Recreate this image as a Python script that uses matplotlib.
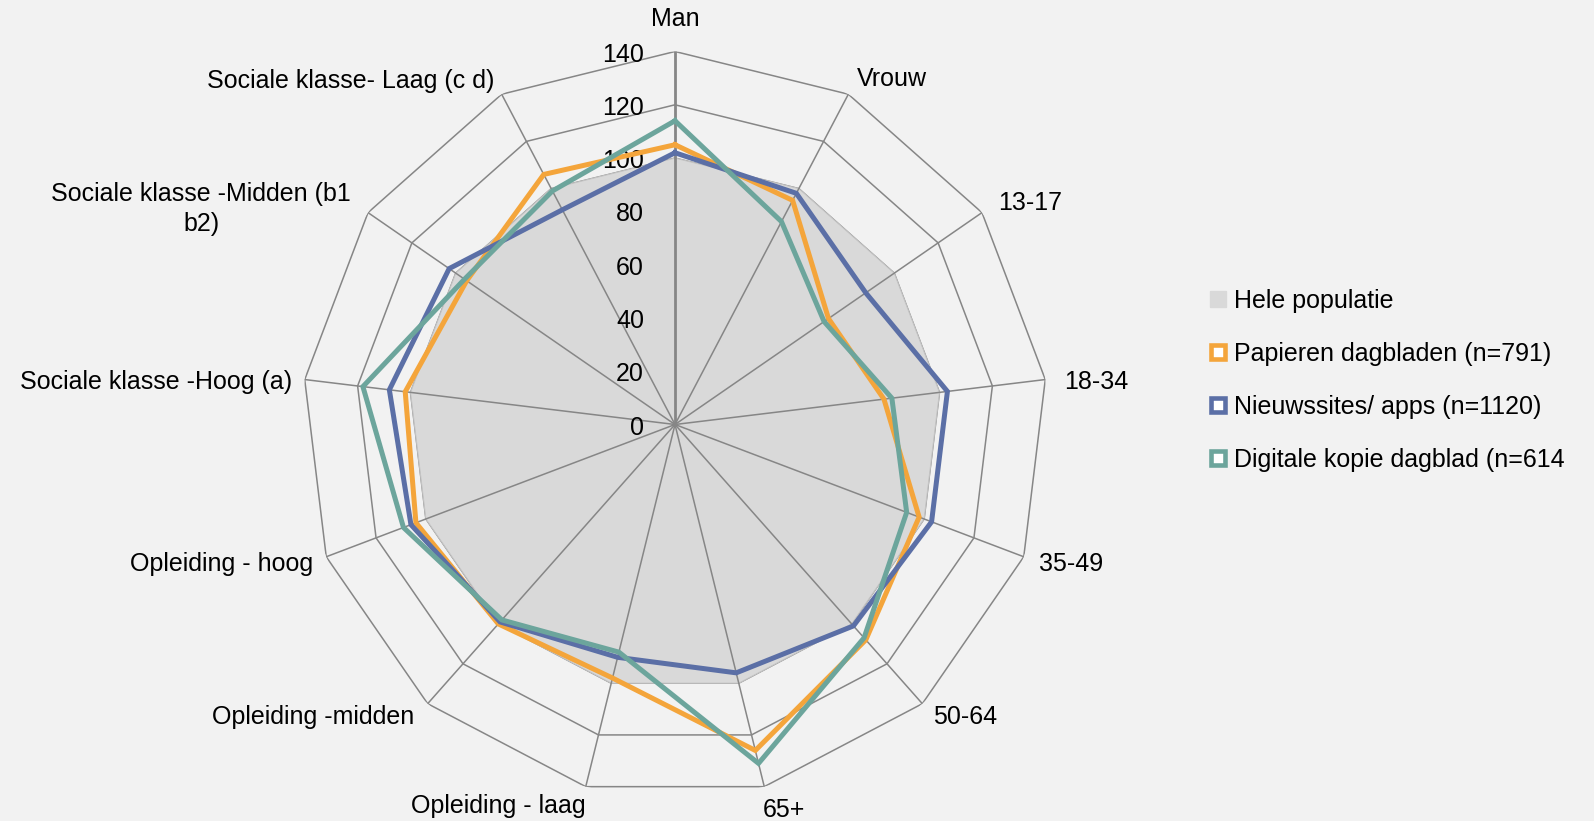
import numpy as np
import matplotlib
matplotlib.use("Agg")
import matplotlib.pyplot as plt
from matplotlib.lines import Line2D

plt.rcParams['font.family'] = ['Liberation Sans', 'DejaVu Sans']

categories = ["Man", "Vrouw", "13-17", "18-34", "35-49", "50-64", "65+",
              "Opleiding - laag", "Opleiding -midden", "Opleiding - hoog",
              "Sociale klasse -Hoog (a)", "Sociale klasse -Midden (b1\nb2)",
              "Sociale klasse- Laag (c d)"]
hele_populatie = [100, 100, 100, 100, 100, 100, 100, 100, 100, 100, 100, 100, 100]
papieren = [105, 95, 70, 79, 98, 108, 126, 98, 100, 104, 102, 95, 106]
nieuwssites = [102, 98, 87, 103, 103, 101, 96, 90, 99, 106, 108, 103, 91]
digitale = [114, 86, 68, 82, 93, 107, 131, 88, 98, 109, 118, 96, 99]
series_names = ["Hele populatie", "Papieren dagbladen (n=791)",
                "Nieuwssites/ apps (n=1120)", "Digitale kopie dagblad (n=614"]
rticks = [0, 20, 40, 60, 80, 100, 120, 140]

BG = "#F2F2F2"
GRID = "#868686"
FILL = "#D9D9D9"
ORANGE = "#F4A53B"
BLUE = "#5B6FA6"
TEAL = "#6CA59C"
FS = 18

W, H = 1594, 821
fig = plt.figure(figsize=(W / 100, H / 100), dpi=100, facecolor=BG)

cx, cy, R = 675, 424.5, 373
ax = fig.add_axes([(cx - R) / W, (H - cy - R) / H, 2 * R / W, 2 * R / H], projection='polar')
ax.set_facecolor(BG)
ax.set_theta_zero_location('N')
ax.set_theta_direction(-1)
ax.set_ylim(0, 140)
ax.set_axis_off()

n = len(categories)
theta = np.arange(n) * 2 * np.pi / n
theta_c = np.append(theta, theta[0])

def closed(v):
    return np.append(v, v[0])

# rings
for r in rticks[1:]:
    ax.plot(theta_c, [r] * (n + 1), color=GRID, lw=1.1, zorder=1)

# Hele populatie fill
ax.fill(theta_c, closed(hele_populatie), facecolor=FILL, edgecolor="#C4C4C4", lw=0.8, zorder=2)

# spokes
for i, t in enumerate(theta):
    ax.plot([t, t], [0, rticks[-1]], color=GRID, lw=2.0 if i == 0 else 1.1, zorder=3)

# series
for vals, col in [(papieren, ORANGE), (nieuwssites, BLUE), (digitale, TEAL)]:
    ax.plot(theta_c, closed(vals), color=col, lw=3.6, zorder=5, solid_joinstyle='miter')

# radial tick labels
for r in rticks:
    ax.annotate(str(r), xy=(0, r), xytext=(-31, -3), textcoords='offset pixels',
                ha='right', va='center', fontsize=FS, color='black', zorder=4)

# category labels
label_style = [
    ('center', 0, 33), ('left', 9, 15), ('left', 16, 10), ('left', 19, -2.5),
    ('left', 15, -7), ('left', 11, -13), ('center', 20, -23.5), ('right', 0, -19.5),
    ('right', -13, -13), ('right', -13, -7), ('right', -13, -2.5), ('right', -17, 3.5),
    ('right', -7, 13)]
for t, lab, (ha, dx, dy) in zip(theta, categories, label_style):
    ax.annotate(lab, xy=(t, rticks[-1]), xytext=(dx, dy), textcoords='offset pixels',
                ha=ha, va='center', multialignment='center', fontsize=FS,
                linespacing=1.35, color='black', annotation_clip=False)

# legend
handles = [
    Line2D([], [], marker='s', linestyle='none', markersize=11.5,
           markerfacecolor=FILL, markeredgecolor=FILL),
    Line2D([], [], marker='s', linestyle='none', markersize=10,
           markerfacecolor='white', markeredgecolor=ORANGE, markeredgewidth=3.3),
    Line2D([], [], marker='s', linestyle='none', markersize=10,
           markerfacecolor='white', markeredgecolor=BLUE, markeredgewidth=3.3),
    Line2D([], [], marker='s', linestyle='none', markersize=10,
           markerfacecolor='white', markeredgecolor=TEAL, markeredgewidth=3.3),
]
fig.legend(handles, series_names, loc='upper left',
           bbox_to_anchor=(1208 / W, 1 - 289 / H), frameon=False, fontsize=FS,
           handlelength=0.8, handletextpad=0.25, labelspacing=1.16, borderpad=0,
           borderaxespad=0)

fig.savefig("out.png", dpi=100, facecolor=BG)
